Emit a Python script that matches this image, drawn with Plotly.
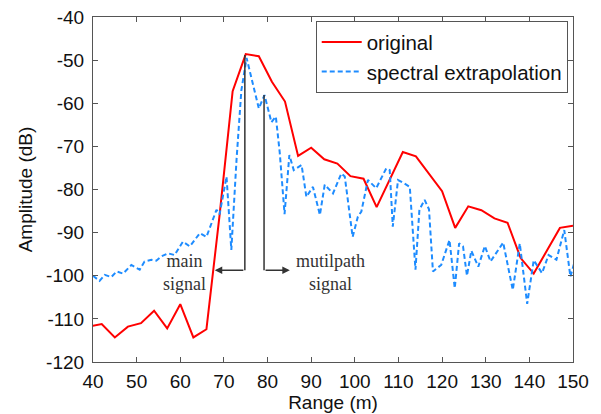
import plotly.graph_objects as go

# ---- data ----
range_orig = [39, 42, 45, 48, 51, 54, 57, 60, 63, 66, 69, 72, 75, 78, 81, 84, 87, 90, 93,
              96, 99, 102, 105, 108, 111, 114, 117, 120, 123, 126, 129, 132, 135, 138,
              141, 144, 147, 150]
amp_orig = [-111.8, -111.2, -114.3, -111.8, -111.0, -108.1, -112.2, -106.6, -114.3, -112.4,
            -86.0, -57.2, -48.6, -49.1, -55.0, -59.6, -72.2, -70.3, -73.0, -74.0, -76.9,
            -77.5, -84.1, -77.7, -71.3, -72.3, -76.3, -80.4, -88.9, -83.9, -84.8, -86.7,
            -87.7, -95.9, -99.5, -94.2, -88.9, -88.4]

range_ext = [40.0, 41.5, 42.7, 44.2, 45.4, 46.9, 48.8, 50.7, 51.8, 53.4, 54.5, 55.7, 57.2,
             58.7, 60.6, 62.2, 64.5, 66.0, 68.3, 69.0, 70.6, 71.7, 72.9, 74.0, 75.2, 78.0,
             79.3, 80.9, 81.9, 82.8, 83.9, 85.0, 86.0, 87.8, 88.9, 90.4, 92.0, 93.1, 95.0,
             96.9, 97.7, 99.5, 100.7, 101.5, 103.0, 104.9, 107.2, 108.0, 108.7, 109.9,
             111.2, 112.6, 113.9, 114.8, 116.0, 117.0, 117.9, 119.8, 121.7, 122.9, 123.9,
             124.8, 125.7, 126.7, 128.3, 129.8, 131.1, 134.0, 136.2, 137.8, 139.5, 141.0,
             142.9, 144.4, 146.2, 148.0, 149.4, 150.3]
amp_ext = [-100.0, -101.2, -99.8, -100.3, -99.0, -99.5, -97.5, -98.6, -96.7, -96.3, -96.5,
           -95.5, -94.8, -95.2, -92.1, -93.2, -90.1, -91.0, -84.7, -85.8, -77.0, -94.0,
           -73.0, -57.0, -49.5, -61.2, -58.1, -64.4, -63.1, -71.5, -85.7, -72.0, -75.5,
           -74.3, -81.7, -79.4, -85.9, -78.9, -80.9, -76.3, -77.0, -91.0, -86.3, -85.1,
           -77.8, -79.7, -75.1, -75.5, -88.6, -77.8, -78.5, -79.4, -98.6, -84.7, -82.4,
           -84.6, -99.0, -97.5, -91.7, -102.9, -92.5, -93.2, -100.0, -94.2, -97.9, -93.1,
           -96.7, -92.3, -103.3, -92.5, -106.5, -96.4, -99.4, -95.2, -96.3, -89.4, -100.2,
           -97.0]

x_ticks = [40, 50, 60, 70, 80, 90, 100, 110, 120, 130, 140, 150]
y_ticks = [-120, -110, -100, -90, -80, -70, -60, -50, -40]

# annotation anchors (range, amplitude)
main_line_x, main_top, main_arrow_x = 74.8, -48.8, 67.9
multi_line_x, multi_top, multi_arrow_x = 79.2, -58.1, 85.1
arrow_y = -98.7

AX_COLOR = '#555555'
SANS = 'Liberation Sans, Arial, sans-serif'
SERIF = 'Liberation Serif, Times New Roman, serif'

fig = go.Figure()
fig.add_trace(go.Scatter(x=range_orig, y=amp_orig, mode='lines', name='original',
                         line=dict(color='#ff0000', width=2)))
fig.add_trace(go.Scatter(x=range_ext, y=amp_ext, mode='lines', name='spectral extrapolation',
                         line=dict(color='#1e8cff', width=2, dash='5px,3px')))

line_style = dict(color='#333333', width=1.5)
fig.add_shape(type='line', xref='x', yref='y', x0=main_line_x, x1=main_line_x,
              y0=main_top, y1=arrow_y, line=line_style)
fig.add_shape(type='line', xref='x', yref='y', x0=multi_line_x, x1=multi_line_x,
              y0=multi_top, y1=arrow_y, line=line_style)
for tail, head in [(main_line_x, main_arrow_x), (multi_line_x, multi_arrow_x)]:
    fig.add_annotation(x=head, y=arrow_y, ax=tail, ay=arrow_y, xref='x', yref='y',
                       axref='x', ayref='y', text='', showarrow=True, arrowhead=2,
                       arrowsize=1, arrowwidth=1.5, arrowcolor='#333333')

fig.add_annotation(x=61.0, y=-99.3, xref='x', yref='y', text='main<br>signal',
                   showarrow=False, font=dict(family=SERIF, size=18, color='#333333'))
fig.add_annotation(x=94.5, y=-99.3, xref='x', yref='y', text='mutilpath<br>signal',
                   showarrow=False, font=dict(family=SERIF, size=18, color='#333333'))

axis_common = dict(showline=True, linecolor=AX_COLOR, linewidth=1.2, mirror='ticks',
                   ticks='inside', ticklen=5, tickcolor=AX_COLOR, tickwidth=1,
                   showgrid=False, zeroline=False,
                   tickfont=dict(family=SANS, size=19, color='#111111'))

fig.update_xaxes(range=[40, 150], tickvals=x_ticks, ticktext=[str(v) for v in x_ticks],
                 title=dict(text='Range (m)', font=dict(family=SANS, size=19, color='#111111'),
                            standoff=4),
                 ticklabelstandoff=2, **axis_common)
fig.update_yaxes(range=[-120, -40], tickvals=y_ticks, ticktext=[str(v) for v in y_ticks],
                 title=dict(text='Amplitude (dB)', font=dict(family=SANS, size=19, color='#111111'),
                            standoff=8),
                 ticklabelstandoff=4, **axis_common)

fig.update_layout(
    width=601, height=414,
    margin=dict(l=93, r=28, t=17, b=52, autoexpand=False),
    paper_bgcolor='white', plot_bgcolor='white',
    font=dict(family=SANS, color='#111111'),
    legend=dict(x=0.989, y=0.988, xanchor='right', yanchor='top',
                bgcolor='white', bordercolor=AX_COLOR, borderwidth=1,
                font=dict(family=SANS, size=20.5, color='#111111'),
                tracegroupgap=0, itemwidth=40),
)

fig.write_html('out.html')
